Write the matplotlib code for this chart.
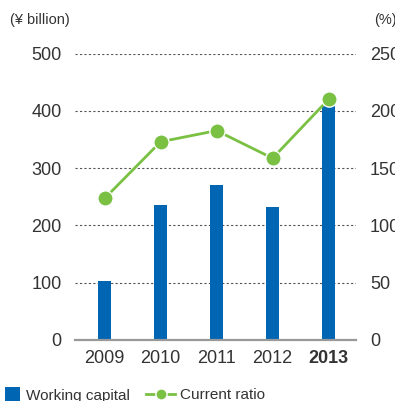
import numpy as np
import matplotlib
matplotlib.use('Agg')
import matplotlib.pyplot as plt
from matplotlib.lines import Line2D
from matplotlib.patches import Patch

years = ['2009', '2010', '2011', '2012', '2013']
working_capital = [103, 236, 270, 232, 410]      # ¥ billion
current_ratio = [123.6, 173, 182.7, 158.6, 210]  # %

blue = '#0066b3'
green = '#7ac143'
txt = '#333333'

plt.rcParams['font.family'] = ['Liberation Sans', 'DejaVu Sans']

fig = plt.figure(figsize=(3.95, 4.01), dpi=100)
ax = fig.add_axes([75/395, 61/401, 281/395, 286.5/401])
x = np.arange(len(years))

ax.bar(x, working_capital, width=0.23, color=blue, zorder=3)
ax.set_xlim(-0.53, 4.49)
ax.set_ylim(0, 500)
ax.set_yticks([0, 100, 200, 300, 400, 500])
ax.yaxis.grid(True, linestyle=(0, (2, 2)), color='#555555', linewidth=0.8, zorder=1)
for s in ['top', 'left', 'right']:
    ax.spines[s].set_visible(False)
ax.spines['bottom'].set_color('#999999')
ax.spines['bottom'].set_linewidth(1.6)
ax.spines['bottom'].set_zorder(4)
ax.tick_params(axis='both', length=0, labelsize=13, colors=txt)
ax.tick_params(axis='y', pad=9.5)
ax.tick_params(axis='x', pad=7)
ax.set_xticks(x)
ax.set_xticklabels(years)
ax.get_xticklabels()[-1].set_fontweight('bold')

ax2 = ax.twinx()
ax2.set_ylim(0, 250)
ax2.set_yticks([0, 50, 100, 150, 200, 250])
for s in ['top', 'left', 'right', 'bottom']:
    ax2.spines[s].set_visible(False)
ax2.tick_params(axis='y', length=0, labelsize=13, colors=txt, pad=10)
ax2.plot(x, current_ratio, color=green, linewidth=2, marker='o', markersize=11,
         markerfacecolor=green, markeredgecolor='white', markeredgewidth=1, zorder=5)

fig.text(10/395, 1 - 20/401, '(¥ billion)', fontsize=10.5, color=txt, va='center', ha='left')
fig.text(374/395, 1 - 20/401, '(%)', fontsize=10.5, color=txt, va='center', ha='left')

# legend: two separate boxes so each handle gets its own length
leg_y = 1 - 395/401
fig.legend([Patch(facecolor=blue, edgecolor='none')], ['Working capital'],
           loc='center left', bbox_to_anchor=(5/395, leg_y), frameon=False, fontsize=11,
           handlelength=1.0, handleheight=1.0, handletextpad=0.35,
           labelcolor=txt, borderaxespad=0, borderpad=0)
fig.legend([Line2D([], [], color=green, linewidth=2, marker='o', markersize=8,
                   markerfacecolor=green, markeredgecolor='white')], ['Current ratio'],
           loc='center left', bbox_to_anchor=(146/395, leg_y), frameon=False, fontsize=11,
           handlelength=1.9, handletextpad=0.3,
           labelcolor=txt, borderaxespad=0, borderpad=0)

fig.savefig('out.png', dpi=100)
